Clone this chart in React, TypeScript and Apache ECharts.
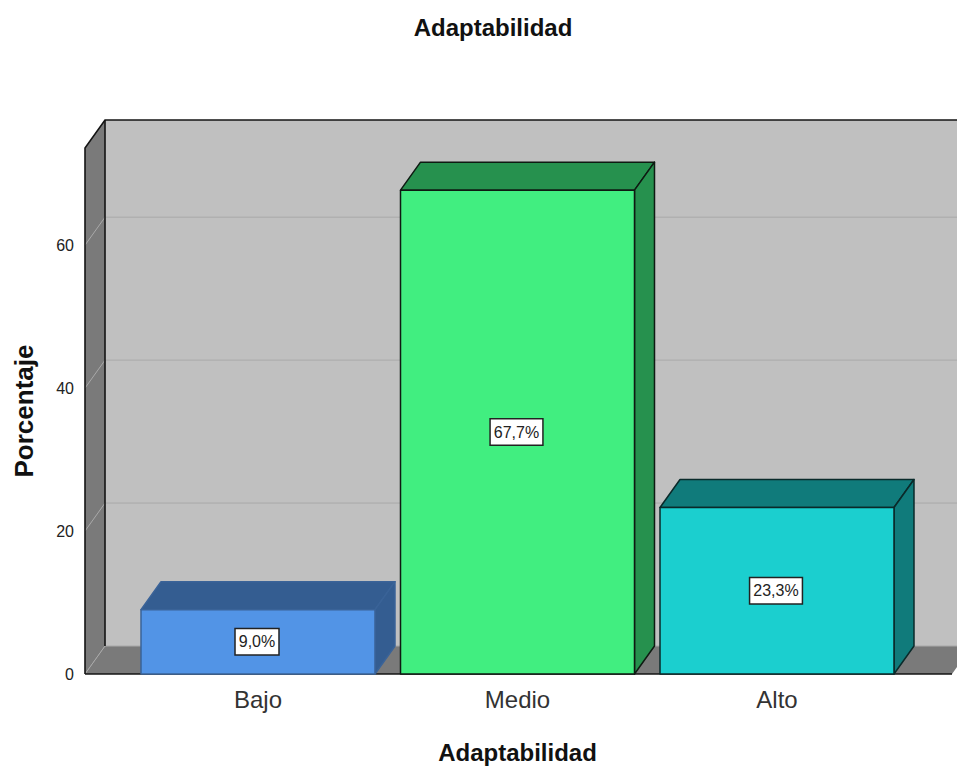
import React, { useEffect, useRef } from "react";
import * as echarts from "echarts";

const categories = ["Bajo", "Medio", "Alto"];
const percentages = [9.0, 67.7, 23.3];
const valueLabels = ["9,0%", "67,7%", "23,3%"];
const frontColors = ["#5294E6", "#41EE80", "#1BCFCF"];
const shadeColors = ["#345D91", "#26914E", "#107B7B"];
const edgeColors = ["#3A6398", "#0E1A12", "#0A2A2A"];
const gridValues = [0, 20, 40, 60];

const FONT = "'Liberation Sans', Arial, sans-serif";
const DX = 20;
const DY = 28;
const WALL_BACK = "#C0C0C0";
const WALL_SIDE = "#7A7A7A";
const GRID_LINE = "#A9A9A9";
const EDGE = "#141414";

function renderWalls(params: any, api: any) {
  const cs = params.coordSys;
  const left = cs.x - 43.25;
  const rightFront = 952;
  const y0 = api.coord([0, 0])[1];
  const yTop = cs.y;
  const children: any[] = [
    {
      type: "rect",
      shape: { x: left + DX, y: yTop - DY, width: 1000, height: y0 - yTop },
      style: { fill: WALL_BACK },
    },
    {
      type: "polygon",
      shape: { points: [[left, yTop], [left + DX, yTop - DY], [left + DX, y0 - DY], [left, y0]] },
      style: { fill: WALL_SIDE },
    },
    {
      type: "polygon",
      shape: { points: [[left, y0], [left + DX, y0 - DY], [rightFront + DX, y0 - DY], [rightFront, y0]] },
      style: { fill: WALL_SIDE },
    },
  ];
  gridValues.forEach((v) => {
    const y = api.coord([0, v])[1];
    children.push({
      type: "polyline",
      shape: { points: [[left, y], [left + DX, y - DY], [1000, y - DY]] },
      style: { fill: "none", stroke: GRID_LINE, lineWidth: 1 },
    });
  });
  children.push(
    {
      type: "polyline",
      shape: { points: [[left, y0], [left, yTop], [left + DX, yTop - DY], [1000, yTop - DY]] },
      style: { fill: "none", stroke: EDGE, lineWidth: 1.6 },
    },
    {
      type: "line",
      shape: { x1: left + DX, y1: yTop - DY, x2: left + DX, y2: y0 - DY },
      style: { stroke: EDGE, lineWidth: 1.6 },
    },
    {
      type: "line",
      shape: { x1: left, y1: y0, x2: rightFront, y2: y0 },
      style: { stroke: EDGE, lineWidth: 1.6 },
    }
  );
  return { type: "group", children };
}

function renderBar(params: any, api: any) {
  const i = api.value(0);
  const v = api.value(1);
  const [cx, yTop] = api.coord([i, v]);
  const y0 = api.coord([i, 0])[1];
  const half = (api.size([1, 0])[0] * 0.9017) / 2;
  const l = cx - half;
  const r = cx + half;
  const edge = { stroke: edgeColors[i], lineWidth: 1.5, lineJoin: "round" };
  return {
    type: "group",
    children: [
      {
        type: "polygon",
        shape: { points: [[l, yTop], [l + DX, yTop - DY], [r + DX, yTop - DY], [r, yTop]] },
        style: { fill: shadeColors[i], ...edge },
      },
      {
        type: "polygon",
        shape: { points: [[r, yTop], [r + DX, yTop - DY], [r + DX, y0 - DY], [r, y0]] },
        style: { fill: shadeColors[i], ...edge },
      },
      {
        type: "rect",
        shape: { x: l, y: yTop, width: r - l, height: y0 - yTop },
        style: { fill: frontColors[i], ...edge },
      },
      {
        type: "text",
        x: cx - 1,
        y: (yTop + y0) / 2,
        style: {
          text: valueLabels[i],
          font: `16px ${FONT}`,
          fill: "#222",
          align: "center",
          verticalAlign: "middle",
          backgroundColor: "#fff",
          borderColor: "#222",
          borderWidth: 1.5,
          padding: [5, 3, 4, 3],
        },
      },
    ],
  };
}

export default function App() {
  const ref = useRef<HTMLDivElement>(null);
  useEffect(() => {
    const chart = echarts.init(ref.current!, undefined, { renderer: "svg" });
    chart.setOption({
      animation: false,
      backgroundColor: "#fff",
      title: {
        text: "Adaptabilidad",
        left: 488,
        top: 10,
        textAlign: "center",
        textStyle: { fontFamily: FONT, fontSize: 24, fontWeight: "bold", color: "#111" },
      },
      grid: { left: 128.25, width: 778.5, top: 148, height: 526, outerBoundsMode: "none" },
      xAxis: {
        type: "category",
        data: categories,
        name: "Adaptabilidad",
        nameLocation: "middle",
        nameGap: 66,
        nameTextStyle: { fontFamily: FONT, fontSize: 24, fontWeight: "bold", color: "#111" },
        axisLine: { show: false },
        axisTick: { show: false },
        axisLabel: { fontFamily: FONT, fontSize: 24, color: "#333", margin: 13 },
      },
      yAxis: {
        type: "value",
        min: 0,
        max: 73.6,
        interval: 20,
        offset: 43.25,
        name: "Porcentaje",
        nameLocation: "middle",
        nameGap: 48,
        nameTextStyle: { fontFamily: FONT, fontSize: 26, fontWeight: "bold", color: "#111" },
        axisLine: { show: false },
        axisTick: { show: false },
        splitLine: { show: false },
        axisLabel: {
          fontFamily: FONT,
          fontSize: 16,
          color: "#222",
          margin: 11,
          showMaxLabel: false,
          padding: [6, 0, 0, 0],
        },
      },
      series: [
        {
          type: "custom",
          renderItem: renderWalls,
          data: [[0, 0]],
          z: 1,
          silent: true,
        },
        {
          type: "custom",
          renderItem: renderBar,
          data: percentages.map((v, i) => [i, v]),
          encode: { x: 0, y: 1 },
          z: 2,
        },
      ],
    });
    return () => chart.dispose();
  }, []);
  return (
    <div
      ref={ref}
      style={{ position: "fixed", left: 0, top: 0, width: 957, height: 766 }}
    />
  );
}
